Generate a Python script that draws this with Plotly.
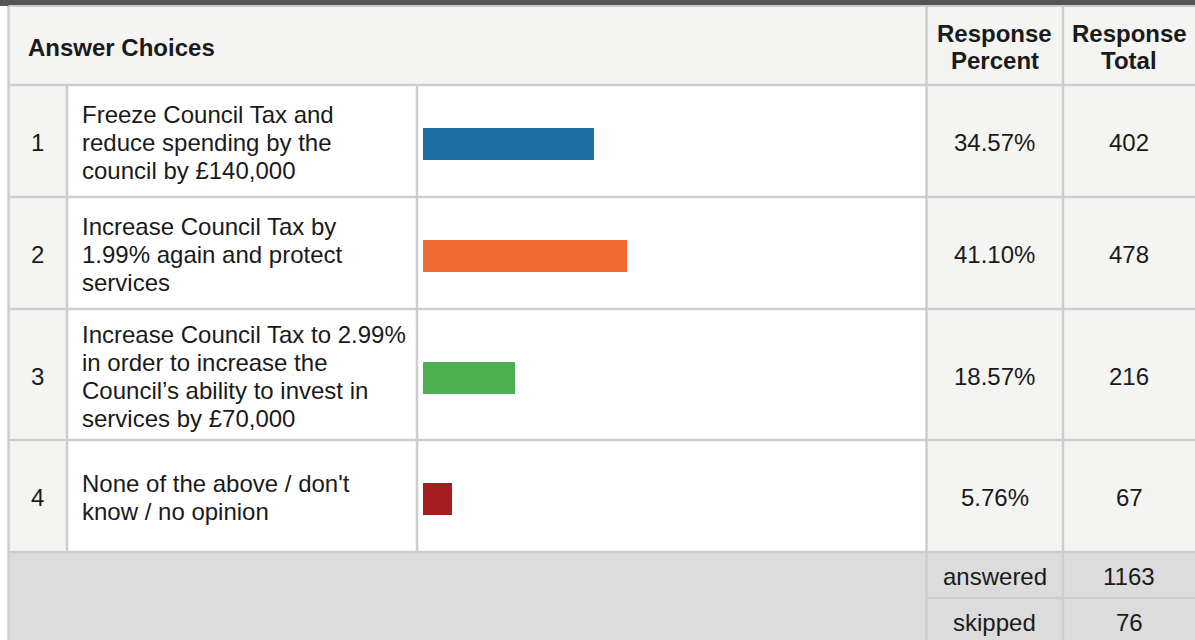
import plotly.graph_objects as go

# ---------------- data ----------------
CHOICE_NUMS = ["1", "2", "3", "4"]
CHOICE_LABELS = [
    "Freeze Council Tax and<br>reduce spending by the<br>council by £140,000",
    "Increase Council Tax by<br>1.99% again and protect<br>services",
    "Increase Council Tax to 2.99%<br>in order to increase the<br>Council’s ability to invest in<br>services by £70,000",
    "None of the above / don't<br>know / no opinion",
]
RESPONSE_PERCENT = [34.57, 41.10, 18.57, 5.76]
RESPONSE_TOTAL = [402, 478, 216, 67]
SUMMARY_LABELS = ["answered", "skipped"]
SUMMARY_VALUES = [1163, 76]
HEADERS = ["Answer Choices", "Response<br>Percent", "Response<br>Total"]

# ---------------- layout constants (pixels) ----------------
W, H = 1195, 640
LEFT = 8.5
C1, C2, C3, C4 = 67, 417, 926.5, 1063
HEAD_TOP, HEAD_BOT = 7, 85
ROW_EDGES = [85, 197, 309, 440, 552]
SUM_EDGES = [552, 598, 640]
SUM_TEXT_OFFSETS = [1, 3]
BAR_X0, BAR_X1 = 423, 919
BAR_H = 32
BAR_OFFSET = 3
LINE_SP = 28
TEXT_OFFSET = 1.5
LABEL_X = 80
HEAD_X = 26

BAR_COLORS = ["#1c6ea4", "#f06a33", "#4caf50", "#a61c20"]
GRID = "#cdcdcd"
LIGHT_BG = "#f4f4f3"
SUM_BG = "#dcdcdc"
TXT = "#1a1a1a"
FONT = "Liberation Sans, Arial, sans-serif"
FS = 24


def px(x):
    return x / W


def py(y):
    return 1 - y / H


row_centers = [(ROW_EDGES[i] + ROW_EDGES[i + 1]) / 2 for i in range(len(ROW_EDGES) - 1)]
bar_centers = [c + BAR_OFFSET for c in row_centers]

fig = go.Figure(
    go.Bar(
        x=RESPONSE_PERCENT,
        y=bar_centers,
        orientation="h",
        width=BAR_H,
        marker=dict(color=BAR_COLORS, line=dict(width=0)),
        hoverinfo="skip",
    )
)

shapes = []


def rect(x0, y0, x1, y1, color):
    shapes.append(dict(type="rect", xref="paper", yref="paper",
                       x0=px(x0), x1=px(x1), y0=py(y0), y1=py(y1),
                       fillcolor=color, line=dict(width=0), layer="below"))


def line(x0, y0, x1, y1, color=GRID, w=2.5):
    shapes.append(dict(type="line", xref="paper", yref="paper",
                       x0=px(x0), x1=px(x1), y0=py(y0), y1=py(y1),
                       line=dict(color=color, width=w), layer="above"))


# backgrounds
rect(0, 0, W, 6, "#555555")
rect(LEFT, HEAD_TOP, W, HEAD_BOT, LIGHT_BG)
rect(LEFT, ROW_EDGES[0], C1, ROW_EDGES[-1], LIGHT_BG)
rect(C3, ROW_EDGES[0], W, ROW_EDGES[-1], LIGHT_BG)
rect(LEFT, SUM_EDGES[0], W, H, SUM_BG)

# grid lines
line(LEFT, 6, W, 6, "#cccccc", 2)
line(LEFT, 6, LEFT, H)
for y in ROW_EDGES:
    line(LEFT, y, W, y)
line(C1, ROW_EDGES[0], C1, ROW_EDGES[-1])
line(C2, ROW_EDGES[0], C2, ROW_EDGES[-1])
line(C3, HEAD_TOP, C3, H)
line(C4, HEAD_TOP, C4, H)
line(C3, SUM_EDGES[1], W, SUM_EDGES[1])

ann = []


def text(x, y, s, anchor="left", bold=False, size=FS):
    ann.append(dict(xref="paper", yref="paper", x=px(x), y=py(y), text=s,
                    showarrow=False, xanchor=anchor, yanchor="middle",
                    font=dict(family=FONT, size=size, color=TXT,
                              weight="bold" if bold else "normal")))


# header
head_mid = (HEAD_TOP + HEAD_BOT) / 2
text(HEAD_X, head_mid + 1, HEADERS[0], bold=True, size=24)
for cx, h in [((C3 + C4) / 2, HEADERS[1]), ((C4 + W) / 2, HEADERS[2])]:
    parts = h.split("<br>")
    for j, p in enumerate(parts):
        text(cx, head_mid + 1 + (j - (len(parts) - 1) / 2) * 27, p, anchor="center", bold=True, size=24)

# rows
for i, rc in enumerate(row_centers):
    text((LEFT + C1) / 2, rc + TEXT_OFFSET, CHOICE_NUMS[i], anchor="center")
    lines = CHOICE_LABELS[i].split("<br>")
    for j, s in enumerate(lines):
        text(LABEL_X, rc + TEXT_OFFSET + (j - (len(lines) - 1) / 2) * LINE_SP, s)
    text((C3 + C4) / 2, rc + TEXT_OFFSET, f"{RESPONSE_PERCENT[i]:.2f}%", anchor="center")
    text((C4 + W) / 2, rc + TEXT_OFFSET, str(RESPONSE_TOTAL[i]), anchor="center")

# summary
for k in range(2):
    sc = (SUM_EDGES[k] + SUM_EDGES[k + 1]) / 2
    text((C3 + C4) / 2, sc + SUM_TEXT_OFFSETS[k], SUMMARY_LABELS[k], anchor="center")
    text((C4 + W) / 2, sc + SUM_TEXT_OFFSETS[k], str(SUMMARY_VALUES[k]), anchor="center")

fig.update_layout(
    width=W, height=H,
    margin=dict(l=0, r=0, t=0, b=0),
    paper_bgcolor="white",
    plot_bgcolor="rgba(0,0,0,0)",
    showlegend=False,
    shapes=shapes,
    annotations=ann,
    bargap=0,
    xaxis=dict(domain=[px(BAR_X0), px(BAR_X1)], range=[0, 100], visible=False, fixedrange=True),
    yaxis=dict(domain=[0, 1], range=[H, 0], visible=False, fixedrange=True),
)

fig.write_html("out.html", config={"displayModeBar": False})
